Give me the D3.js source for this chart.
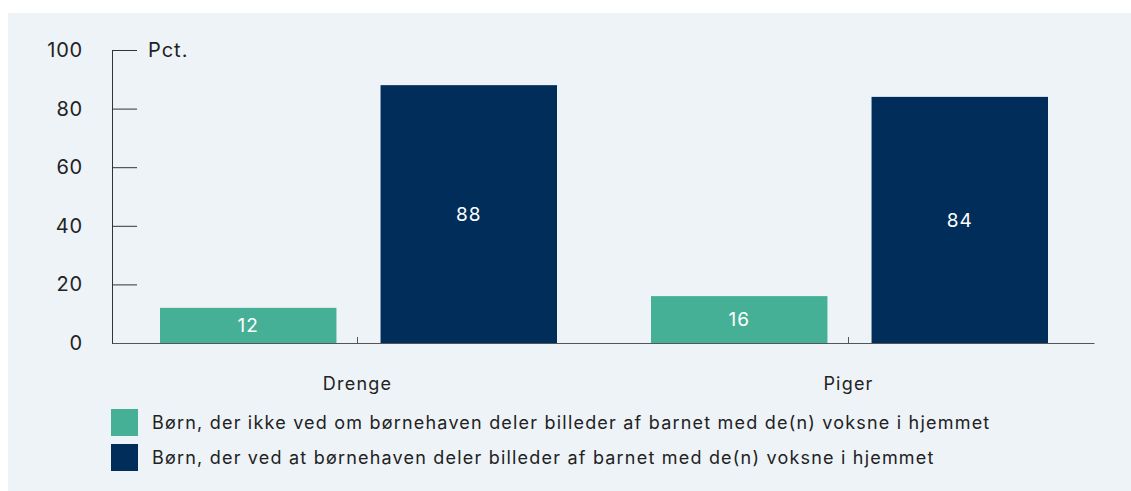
<!DOCTYPE html>
<html>
<head>
<meta charset="utf-8">
<script src="https://cdn.jsdelivr.net/npm/d3@7"></script>
<style>
	body { margin: 0; background: #fff; }
	svg { display: block; font-family: Inter, "Open Sans", sans-serif; }
</style>
</head>
<body>
<svg id="chart"></svg>
<script>
var categories = ["Drenge", "Piger"];
var seriesNames = [
	"Børn, der ikke ved om børnehaven deler billeder af barnet med de(n) voksne i hjemmet",
	"Børn, der ved at børnehaven deler billeder af barnet med de(n) voksne i hjemmet"
];
var notKnowing = [12, 16];
var knowing = [88, 84];
var yTicks = [0, 20, 40, 60, 80, 100];
var colors = ["#46b096", "#002d5a"];

var width = 1131, height = 491;
var margin = {top: 50, right: 37, bottom: 148, left: 112};

var svg = d3.select("#chart")
	.attr("width", width)
	.attr("height", height);

// panel background
svg.append("rect")
	.attr("x", 8)
	.attr("y", 13)
	.attr("width", width - 8)
	.attr("height", height - 13)
	.attr("fill", "#eef3f8");

var plotW = width - margin.left - margin.right,
	plotH = height - margin.top - margin.bottom;

var x0 = d3.scaleBand()
	.domain(categories)
	.range([0, plotW])
	.padding(0);

var x1 = d3.scaleBand()
	.domain([0, 1])
	.range([48, x0.bandwidth() - 46])
	.paddingInner(0.2);

var y = d3.scaleLinear()
	.domain([0, 100])
	.range([plotH, 0]);

var g = svg.append("g").attr("transform", "translate(" + margin.left + "," + margin.top + ")");

// y axis
var yAxis = g.append("g")
	.call(d3.axisLeft(y).tickValues(yTicks).tickSize(-25).tickPadding(29).tickSizeOuter(0));
yAxis.select(".domain").attr("stroke", "#333");
yAxis.selectAll(".tick line").attr("stroke", "#333");
yAxis.selectAll(".tick text")
	.attr("fill", "#222")
	.style("font-size", "20px")
	.style("letter-spacing", "0.8px")
	.style("font-family", "Inter, sans-serif");

g.append("text")
	.attr("x", 36)
	.attr("y", 0)
	.attr("dy", "0.35em")
	.attr("fill", "#222")
	.style("font-size", "20px")
	.style("letter-spacing", "1px")
	.text("Pct.");

// bars
var rows = categories.map(function(c, i) {
	return {category: c, values: [notKnowing[i], knowing[i]]};
});

var groups = g.selectAll(".group")
	.data(rows)
	.enter().append("g")
	.attr("class", "group")
	.attr("transform", function(d) { return "translate(" + x0(d.category) + ",0)"; });

groups.selectAll("rect")
	.data(function(d) { return d.values; })
	.enter().append("rect")
	.attr("x", function(d, i) { return x1(i); })
	.attr("y", function(d) { return y(d); })
	.attr("width", x1.bandwidth())
	.attr("height", function(d) { return plotH - y(d); })
	.attr("fill", function(d, i) { return colors[i]; });

groups.selectAll(".val")
	.data(function(d) { return d.values; })
	.enter().append("text")
	.attr("class", "val")
	.attr("x", function(d, i) { return x1(i) + x1.bandwidth() / 2; })
	.attr("y", function(d) { return (y(d) + plotH) / 2; })
	.attr("dy", "0.36em")
	.attr("text-anchor", "middle")
	.attr("fill", "#fff")
	.style("font-size", "19px")
	.style("letter-spacing", "1px")
	.text(function(d) { return d; });

// x axis
var xAxis = g.append("g")
	.attr("transform", "translate(0," + plotH + ")")
	.call(d3.axisBottom(x0).tickSize(-6).tickPadding(34).tickSizeOuter(0));
xAxis.select(".domain").attr("stroke", "#555");
xAxis.selectAll(".tick line").attr("stroke", "#555");
xAxis.selectAll(".tick text")
	.attr("fill", "#222")
	.style("font-size", "18px")
	.style("letter-spacing", "1.2px")
	.style("font-family", "Inter, sans-serif");

// legend
var legend = svg.append("g").attr("transform", "translate(111,409)");
var items = legend.selectAll("g")
	.data(seriesNames)
	.enter().append("g")
	.attr("transform", function(d, i) { return "translate(0," + (i * 35) + ")"; });
items.append("rect")
	.attr("width", 27)
	.attr("height", 27)
	.attr("fill", function(d, i) { return colors[i]; });
items.append("text")
	.attr("x", 41)
	.attr("y", 13.5)
	.attr("dy", "0.35em")
	.attr("fill", "#222")
	.style("font-size", "18px")
	.style("letter-spacing", "1.2px")
	.text(function(d) { return d; });
</script>
</body>
</html>
